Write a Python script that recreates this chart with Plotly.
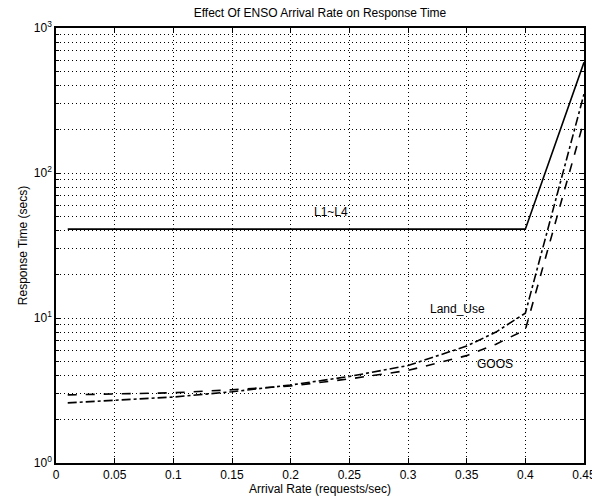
import plotly.graph_objects as go

# Data
arrival_rate = [0.01, 0.05, 0.1, 0.15, 0.2, 0.25, 0.3, 0.35, 0.375, 0.4, 0.45]
l1_l4 = [41, 41, 41, 41, 41, 41, 41, 41, 41, 41, 580]
land_use = [2.6, 2.7, 2.85, 3.1, 3.45, 3.95, 4.7, 6.4, 8.0, 10.8, 350]
goos = [2.95, 3.0, 3.05, 3.2, 3.4, 3.8, 4.35, 5.5, 6.6, 8.3, 230]

x_ticks = [0, 0.05, 0.1, 0.15, 0.2, 0.25, 0.3, 0.35, 0.4, 0.45]
x_tick_labels = ["0", "0.05", "0.1", "0.15", "0.2", "0.25", "0.3", "0.35", "0.4", "0.45"]
y_ticks = [1, 10, 100, 1000]
y_tick_labels = ["10<sup>0</sup>", "10<sup>1</sup>", "10<sup>2</sup>", "10<sup>3</sup>"]
y_minor = [m * 10 ** k for k in range(3) for m in range(2, 10)]

fig = go.Figure()
fig.add_trace(go.Scatter(x=arrival_rate, y=l1_l4, mode="lines", name="L1~L4",
                         line=dict(color="black", width=1.6, dash="solid")))
fig.add_trace(go.Scatter(x=arrival_rate, y=land_use, mode="lines", name="Land_Use",
                         line=dict(color="black", width=1.6, dash="dashdot")))
fig.add_trace(go.Scatter(x=arrival_rate, y=goos, mode="lines", name="GOOS",
                         line=dict(color="black", width=1.6, dash="dash")))

font_family = "Liberation Sans, Arial, sans-serif"

fig.add_annotation(x=0.234, y=1.73, xref="x", yref="y", text="L1~L4", showarrow=False,
                   font=dict(size=12, color="black", family=font_family))
fig.add_annotation(x=0.342, y=1.06, xref="x", yref="y", text="Land_Use", showarrow=False,
                   font=dict(size=12, color="black", family=font_family))
fig.add_annotation(x=0.374, y=0.68, xref="x", yref="y", text="GOOS", showarrow=False,
                   font=dict(size=12, color="black", family=font_family))

# page body has an 8px margin; figure is sized to fit the 600x501 window
fig.update_layout(
    width=592, height=493,
    margin=dict(l=48, r=16, t=20, b=38),
    paper_bgcolor="white", plot_bgcolor="white",
    showlegend=False,
    font=dict(family=font_family, size=12, color="black"),
    title=dict(text="Effect Of ENSO Arrival Rate on Response Time", x=0.5, xanchor="center",
               xref="paper", y=0.999, yanchor="top", pad=dict(t=0),
               font=dict(size=12, color="black")),
)

grid_dash = "1px,3px"

fig.update_xaxes(
    range=[0, 0.45], tickvals=x_ticks, ticktext=x_tick_labels,
    showline=True, linecolor="black", linewidth=1.5, mirror="ticks",
    ticks="inside", ticklen=5, tickcolor="black",
    showgrid=True, gridcolor="black", griddash=grid_dash, gridwidth=1.2,
    zeroline=False, automargin=False,
    title=dict(text="Arrival Rate (requests/sec)", standoff=0, font=dict(size=12)),
    tickfont=dict(size=12),
)
fig.update_yaxes(
    type="log", range=[0, 3], tickvals=y_ticks, ticktext=y_tick_labels,
    showline=True, linecolor="black", linewidth=1.5, mirror="ticks",
    ticks="inside", ticklen=5, tickcolor="black",
    showgrid=True, gridcolor="black", griddash=grid_dash, gridwidth=1.2,
    minor=dict(tickvals=y_minor, showgrid=True, gridcolor="black", griddash=grid_dash,
               gridwidth=1.2, ticks="inside", ticklen=3, tickcolor="black"),
    zeroline=False, automargin=False,
    title=dict(text="Response Time (secs)", standoff=4, font=dict(size=12)),
    tickfont=dict(size=12),
)

fig.write_html("out.html")
